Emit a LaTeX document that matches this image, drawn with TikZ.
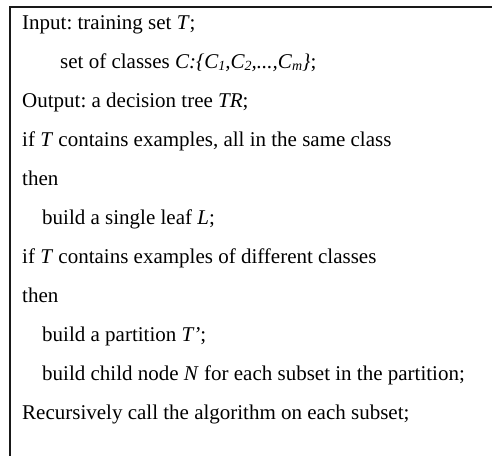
\documentclass[tikz,border=0pt]{standalone}
\usepackage{fontspec}
\setmainfont{Liberation Serif}
\newcommand{\sbs}[1]{\raisebox{-0.3ex}{\fontsize{14}{14}\selectfont #1}}
\begin{document}
\frenchspacing
\begin{tikzpicture}[x=1pt,y=-1pt,
  txt/.style={anchor=base west,inner sep=0pt,font=\fontsize{21}{25}\selectfont},
  rule/.style={line width=2pt,black!90}]
\useasboundingbox (0,0) rectangle (492,456);
\coordinate (tl) at (10,7);
\coordinate (tr) at (492,7);
\coordinate (bl) at (10,456);
\draw[rule] (tr) -- (tl) -- (bl);
\node[txt] (l1) at (22,29) {Input: training set \textit{T};};
\node[txt] (l2) at (60,68) {set of classes \textit{C:\{C\sbs{1},C\sbs{2},...,C\sbs{m}\}};};
\node[txt] (l3) at (22,107) {Output: a decision tree \textit{TR};};
\node[txt] (l4) at (22,146) {if \textit{T} contains examples, all in the same class};
\node[txt] (l5) at (22,185) {then};
\node[txt] (l6) at (42,224) {build a single leaf \textit{L};};
\node[txt] (l7) at (22,263) {if \textit{T} contains examples of different classes};
\node[txt] (l8) at (22,302) {then};
\node[txt] (l9) at (42,341) {build a partition \textit{T’};};
\node[txt] (l10) at (42,380) {build child node \textit{N} for each subset in the partition;};
\node[txt] (l11) at (22,419) {Recursively call the algorithm on each subset;};
\end{tikzpicture}
\end{document}
